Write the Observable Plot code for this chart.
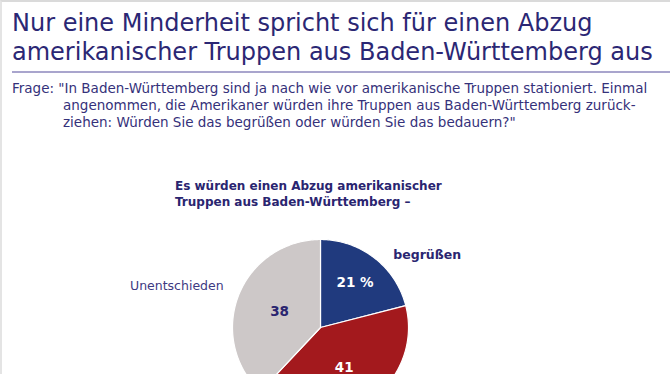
<!DOCTYPE html>
<html><head><meta charset="utf-8">
<script src="https://cdn.jsdelivr.net/npm/d3@7"></script>
<script src="https://cdn.jsdelivr.net/npm/@observablehq/plot@0.6"></script>
<style>
html,body{margin:0;padding:0;background:#fff;}
body{width:670px;height:374px;overflow:hidden;position:relative;font-family:"DejaVu Sans",sans-serif;}
#frame{position:absolute;left:0;top:0;width:668px;height:374px;border-top:2px solid #dadada;border-left:2px solid #e4e4e4;pointer-events:none;z-index:5}
.t{position:absolute;white-space:nowrap;margin:0;}
#title{left:12px;top:9px;font-size:24px;line-height:29px;color:#2b2774;font-weight:normal;}
#rule{position:absolute;left:12px;right:0;top:71px;height:0;border-top:2px solid #a9a5cd;}
.q{font-size:13.5px;line-height:17px;color:#35317a;}
#q1{left:12px;top:80px;}
#q2{left:63px;top:97px;}
#sub{left:175px;top:178px;font-size:12px;line-height:16px;font-weight:bold;color:#2a2570;}
#chart{position:absolute;left:0;top:210px;}
</style></head>
<body>
<div id="frame"></div>
<h1 class="t" id="title">Nur eine Minderheit spricht sich für einen Abzug<br>amerikanischer Truppen aus Baden-Württemberg aus</h1>
<div id="rule"></div>
<div class="t q" id="q1">Frage: "In Baden-Württemberg sind ja nach wie vor amerikanische Truppen stationiert. Einmal</div>
<div class="t q" id="q2">angenommen, die Amerikaner würden ihre Truppen aus Baden-Württemberg zurück-<br>ziehen: Würden Sie das begrüßen oder würden Sie das bedauern?"</div>
<div class="t" id="sub">Es würden einen Abzug amerikanischer<br>Truppen aus Baden-Württemberg –</div>
<div id="chart"></div>
<script>
const categories = ["begrüßen", "bedauern", "Unentschieden"];
const values = [21, 41, 38];
const valueLabels = ["21 %", "41", "38"];

const fills = {"begrüßen": "#203a7e", "bedauern": "#a3191d", "Unentschieden": "#cdc8c8"};
const valueFill = {"begrüßen": "#ffffff", "bedauern": "#ffffff", "Unentschieden": "#2a2570"};
const valueRadius = {"begrüßen": 0.64, "bedauern": 0.53, "Unentschieden": 0.5};
const outer = {
  "begrüßen": {angle: 45, r: 1.17, anchor: "start", weight: "bold", fill: "#2a2570", size: 12.5},
  "bedauern": {angle: 150, r: 1.2, anchor: "start", weight: "bold", fill: "#2a2570", size: 12.5},
  "Unentschieden": {angle: 293, r: 1.196, anchor: "end", weight: "normal", fill: "#3d3a82", size: 12.5}
};

const arcs = d3.pie().sort(null).value(i => values[i])(d3.range(values.length));
function slicePolygon(a0, a1) {
  const n = Math.max(2, Math.ceil((a1 - a0) / (Math.PI / 180)));
  const pts = [[0, 0]];
  for (let k = 0; k <= n; k++) {
    const a = a0 + (a1 - a0) * k / n;
    pts.push([Math.sin(a), Math.cos(a)]);
  }
  pts.push([0, 0]);
  return pts;
}
const slices = arcs.map(a => ({
  type: "Feature",
  properties: {cat: categories[a.data]},
  geometry: {type: "Polygon", coordinates: [slicePolygon(a.startAngle, a.endAngle)]}
}));
const mid = a => (a.startAngle + a.endAngle) / 2;
const deg = Math.PI / 180;

const chart = Plot.plot({
  width: 670, height: 260,
  marginLeft: 232, marginRight: 262, marginTop: 29, marginBottom: 55,
  projection: {type: "reflect-y", clip: false, domain: {type: "MultiPoint", coordinates: [[-1, -1], [1, 1]]}},
  color: {type: "identity"},
  style: {fontFamily: "DejaVu Sans, sans-serif", overflow: "visible"},
  marks: [
    Plot.geo(slices, {fill: d => fills[d.properties.cat], stroke: "white", strokeWidth: 1.2}),
    Plot.text(arcs, {
      x: a => valueRadius[categories[a.data]] * Math.sin(mid(a)),
      y: a => valueRadius[categories[a.data]] * Math.cos(mid(a)),
      text: a => valueLabels[a.data],
      fill: a => valueFill[categories[a.data]],
      fontWeight: "bold", fontSize: 13.5
    }),
    ...categories.map(c => Plot.text([c], {
      x: () => outer[c].r * Math.sin(outer[c].angle * deg),
      y: () => outer[c].r * Math.cos(outer[c].angle * deg),
      text: d => d,
      fill: outer[c].fill,
      fontWeight: outer[c].weight,
      textAnchor: outer[c].anchor,
      fontSize: outer[c].size
    }))
  ]
});
document.getElementById("chart").appendChild(chart);
</script>
</body></html>
